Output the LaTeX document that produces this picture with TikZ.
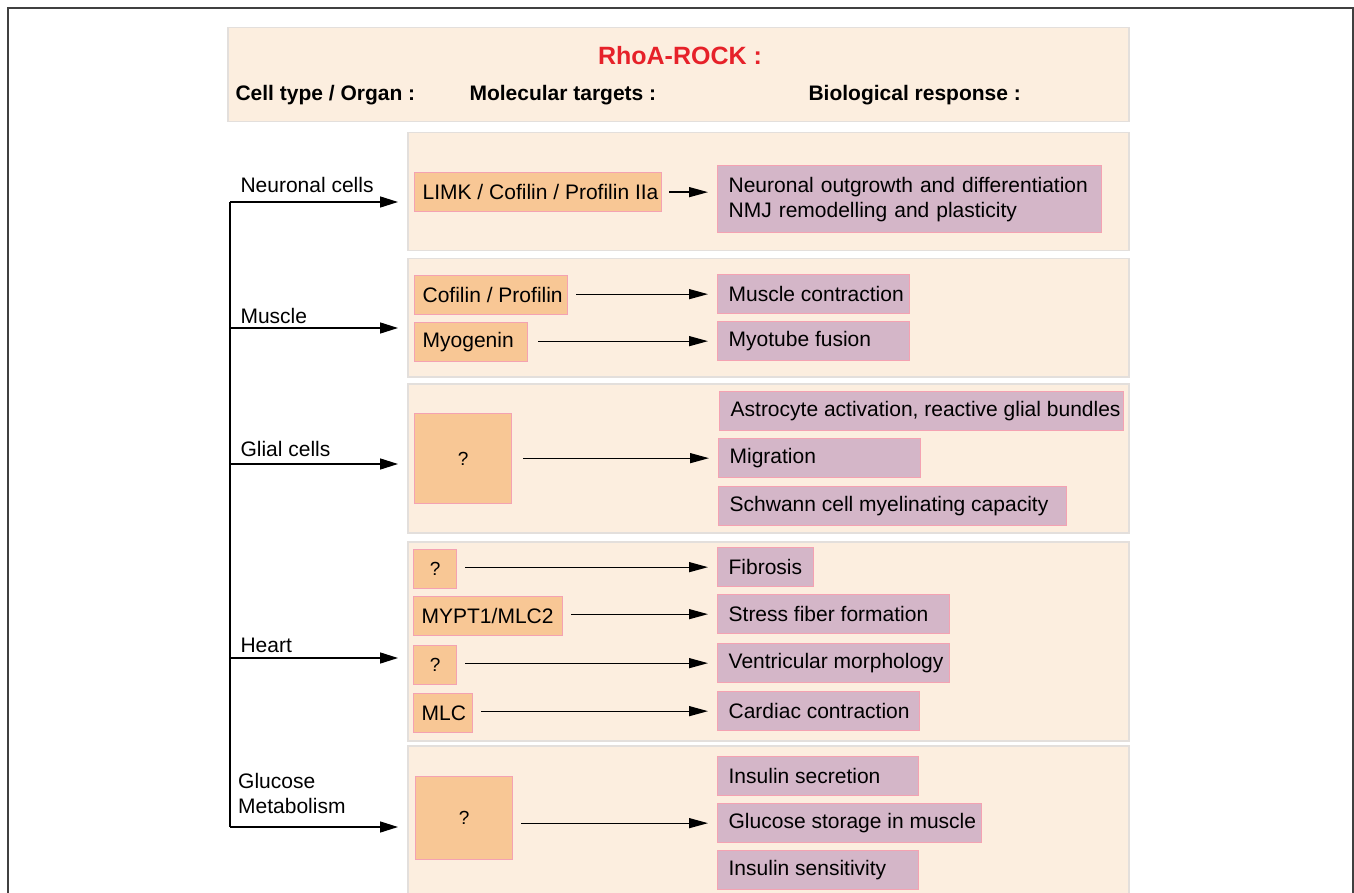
\documentclass[tikz,border=0pt]{standalone}
\usepackage{fontspec}
\setmainfont{Liberation Sans}
\usetikzlibrary{arrows.meta,positioning}
\definecolor{panelfill}{HTML}{FCEEDF}
\definecolor{panelline}{HTML}{E3DFDC}
\definecolor{tgtfill}{HTML}{F8C795}
\definecolor{respfill}{HTML}{D4B6C8}
\definecolor{boxline}{HTML}{F4A2B2}
\definecolor{rockred}{HTML}{E62129}
% text set flush left in a box of fixed width
\newcommand{\leftbox}[2]{\makebox[#1][l]{#2}}

\begin{document}
\begin{tikzpicture}[x=1pt,y=-1pt,
        font=\fontsize{21}{25}\selectfont,
        panel/.style={draw=panelline,fill=panelfill,line width=1.5pt,
            anchor=north west,inner sep=0pt},
        target/.style={draw=boxline,fill=tgtfill,line width=1.3pt,anchor=north west,
            minimum height=39pt,inner xsep=8pt,inner ysep=0pt},
        response/.style={draw=boxline,fill=respfill,line width=1.3pt,anchor=north west,
            minimum height=39pt,inner xsep=11pt,inner ysep=0pt},
        quest/.style={target,font=\fontsize{19}{23}\selectfont},
        head/.style={font=\fontsize{21}{25}\selectfont\bfseries,anchor=west},
        branch/.style={-{Triangle[length=18pt,width=11pt]},line width=1.5pt,shorten >=9pt},
        link/.style={-{Triangle[length=19pt,width=10pt]},line width=1.3pt,
            shorten <=8pt,shorten >=9pt}]
\useasboundingbox (0,0) rectangle (1354,893);
\draw[darkgray,line width=1.3pt] (8,900) -- (8,8) -- (1353,8) -- (1353,900);

% header
\node[panel,minimum width=901pt,minimum height=94pt] (top) at (227,27) {};
\node[font=\fontsize{25}{30}\selectfont\bfseries,text=rockred] (title) at (680,56) {RhoA-ROCK :};
\node[head] (hcell) at (232,95) {Cell type / Organ :};
\node[head] (hmol) at (466,95) {Molecular targets :};
\node[head] (hbio) at (805,95) {Biological response :};

% panels
\node[panel,minimum width=721pt,minimum height=118pt] (pneu) at (407,132) {};
\node[panel,minimum width=721pt,minimum height=118pt] (pmus) at (407,258) {};
\node[panel,minimum width=721pt,minimum height=149pt] (pgli) at (407,383) {};
\node[panel,minimum width=721pt,minimum height=199pt] (phea) at (407,541) {};
\node[panel,minimum width=721pt,minimum height=160pt] (pglu) at (407,745) {};

% cell type / organ
\coordinate (jneu) at (230,202);
\coordinate (jmus) at (230,328);
\coordinate (jgli) at (230,464);
\coordinate (jhea) at (230,658);
\coordinate (jglu) at (230,827);
\draw[line width=1.5pt] (jneu) -- (jglu);
\foreach \c in {neu,mus,gli,hea,glu}
    \draw[branch] (j\c) -- (j\c -| p\c.west);
\node[anchor=base west] (lneu) at (237,193) {Neuronal cells};
\node[anchor=base west] (lmus) at (237,323) {Muscle};
\node[anchor=base west] (lgli) at (237,456) {Glial cells};
\node[anchor=base west] (lhea) at (237,652) {Heart};
\node[anchor=south west,align=left,inner sep=0pt] (lglu) at (238,814) {Glucose\\Metabolism};

% neuronal cells
\node[target] (tlimk) at (414,172) {\leftbox{231pt}{LIMK / Cofilin / Profilin IIa}};
\node[response,text width=362pt,align=left,minimum height=67pt] (rneu) at (717,165)
    {Neuronal outgrowth and differentiation\\NMJ remodelling and plasticity};
\draw[link,shorten <=7pt] (tlimk.east) -- (tlimk.east -| rneu.west);

% muscle
\node[target] (tcof) at (414,275) {\leftbox{137pt}{Cofilin / Profilin}};
\node[target] (tmyo) at (414,322) {\leftbox{97pt}{Myogenin}};
\node[response] (rcon) at (717,274) {\leftbox{170pt}{Muscle contraction}};
\node[response] (rfus) at (717,321) {\leftbox{170pt}{Myotube fusion}};
\draw[link] (tcof.east |- rcon.west) -- (rcon.west);
\draw[link,shorten <=10pt] (tmyo.east |- rfus.west) -- (rfus.west);

% glial cells
\node[quest,minimum width=97pt,minimum height=90pt] (tgli) at (414,413) {?};
\node[response] (rast) at (719,391) {\leftbox{382pt}{Astrocyte activation, reactive glial bundles}};
\node[response] (rmig) at (718,438) {\leftbox{180pt}{Migration}};
\node[response] (rsch) at (718,486) {\leftbox{326pt}{Schwann cell myelinating capacity}};
\draw[link,shorten <=11pt] (tgli.east |- rmig.west) -- (rmig.west);

% heart
\node[quest,minimum width=43pt] (tqa) at (413,549) {?};
\node[target] (tmyp) at (413,596) {\leftbox{133pt}{MYPT1/MLC2}};
\node[quest,minimum width=43pt] (tqb) at (413,645) {?};
\node[target] (tmlc) at (413,693) {\leftbox{43pt}{MLC}};
\node[response] (rfib) at (717,547) {\leftbox{74pt}{Fibrosis}};
\node[response] (rstr) at (717,594) {\leftbox{210pt}{Stress fiber formation}};
\node[response] (rven) at (717,643) {\leftbox{210pt}{Ventricular morphology}};
\node[response] (rcar) at (717,691) {\leftbox{180pt}{Cardiac contraction}};
\draw[link] (tqa.east |- rfib.west) -- (rfib.west);
\draw[link] (tmyp.east |- rstr.west) -- (rstr.west);
\draw[link] (tqb.east |- rven.west) -- (rven.west);
\draw[link] (tmlc.east |- rcar.west) -- (rcar.west);

% glucose metabolism
\node[quest,minimum width=97pt,minimum height=83pt] (tglu) at (415,776) {?};
\node[response] (rsec) at (717,756) {\leftbox{179pt}{Insulin secretion}};
\node[response] (rsto) at (717,803) {\leftbox{242pt}{Glucose storage in muscle}};
\node[response] (rsen) at (717,850) {\leftbox{179pt}{Insulin sensitivity}};
\draw[link] (tglu.east |- rsto.west) -- (rsto.west);

\end{tikzpicture}
\end{document}
